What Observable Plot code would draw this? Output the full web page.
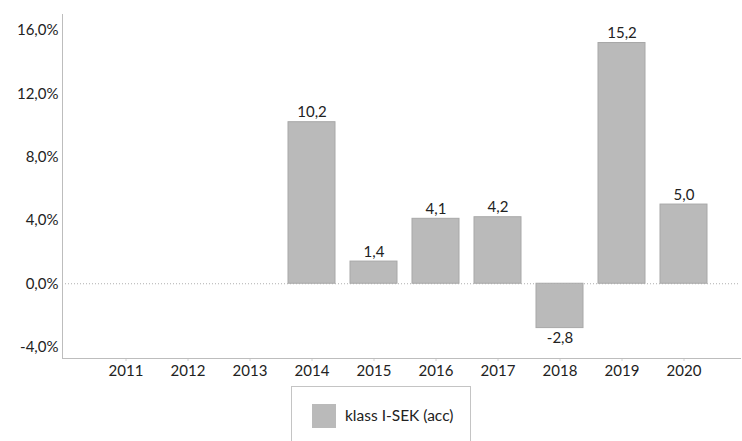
<!DOCTYPE html>
<html>
<head>
<meta charset="utf-8">
<script src="https://cdn.jsdelivr.net/npm/d3@7"></script>
<script src="https://cdn.jsdelivr.net/npm/@observablehq/plot@0.6"></script>
<style>
  body { margin: 0; background: #fff; font-family: Lato, sans-serif; }
  #chart svg { display: block; }
  #legend {
    margin-left: 291px; width: 180px; height: 60px; box-sizing: border-box;
    border: 1px solid #c4c4c4; border-bottom: none; margin-top: 2px;
    position: relative; font-size: 15.5px; color: #222;
  }
  #legend .sw { position: absolute; left: 20px; top: 17px; width: 24px; height: 24px; background: #bababa; }
  #legend .lb { position: absolute; left: 53px; top: 18px; line-height: 20px; }
</style>
</head>
<body>
<div id="chart"></div>
<div id="legend"><div class="sw"></div><div class="lb">klass I-SEK (acc)</div></div>
<script>
const years = ["2011","2012","2013","2014","2015","2016","2017","2018","2019","2020"];
const values = [null, null, null, 10.2, 1.4, 4.1, 4.2, -2.8, 15.2, 5.0];
const yTicks = [-4, 0, 4, 8, 12, 16];
const seriesName = "klass I-SEK (acc)";

const data = years.map((y, i) => ({year: y, value: values[i]})).filter(d => d.value != null);
const fmt = v => v.toFixed(1).replace(".", ",");

const chart = Plot.plot({
  width: 742,
  height: 384,
  marginTop: 14,
  marginBottom: 26,
  marginLeft: 62,
  marginRight: 2,
  insetLeft: 21,
  insetRight: 14,
  style: {fontFamily: "Lato, sans-serif", fontSize: "15px", color: "#222", background: "#fff"},
  x: {domain: years, padding: 0.25, label: null},
  y: {domain: [-4.72, 17], label: null},
  marks: [
    Plot.ruleY([0], {stroke: "#b0b0b0", strokeDasharray: "1,2"}),
    Plot.barY(data, {x: "year", y: "value", fill: "#bababa", stroke: "#a8a8a8", strokeWidth: 1}),
    Plot.text(data, {x: "year", y: "value", text: d => fmt(d.value),
      fill: "#222", fontSize: 15, lineAnchor: "bottom", filter: d => d.value >= 0, dy: -5}),
    Plot.text(data, {x: "year", y: "value", text: d => fmt(d.value),
      fill: "#222", fontSize: 15, lineAnchor: "top", filter: d => d.value < 0, dy: 4}),
    Plot.axisY({ticks: yTicks, tickSize: 0, tickPadding: 4, tickFormat: d => fmt(d) + "%", fill: "#222"}),
    Plot.axisX({tickSize: 3, tickPadding: 4, stroke: "#d0d0d0", fill: "#222"}),
    Plot.frame({anchor: "left", stroke: "#bdbdbd"}),
    Plot.frame({anchor: "bottom", stroke: "#bdbdbd"})
  ]
});
document.getElementById("chart").appendChild(chart);
</script>
</body>
</html>
